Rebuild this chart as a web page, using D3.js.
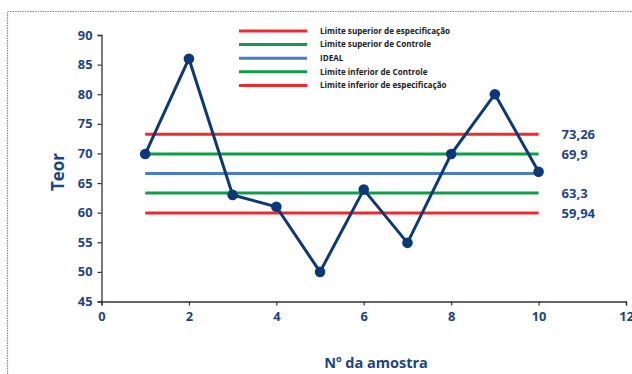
<!DOCTYPE html>
<html>
<head>
<meta charset="utf-8">
<script src="https://cdn.jsdelivr.net/npm/d3@7"></script>
<style>
  html, body { margin: 0; padding: 0; background: #fff; }
  svg { display: block; }
  text { font-family: "Open Sans", "DejaVu Sans", sans-serif; font-weight: 700; }
</style>
</head>
<body>
<svg id="chart" width="632" height="374"></svg>
<script>
// Sample numbers and measured content
const samples = [1, 2, 3, 4, 5, 6, 7, 8, 9, 10];
const teor = [69.9, 86, 63, 61, 50, 63.9, 54.9, 69.9, 80, 66.9];

// Control / specification limits (top to bottom)
const limitNames = [
  "Limite superior de especificação",
  "Limite superior de Controle",
  "IDEAL",
  "Limite inferior de Controle",
  "Limite inferior de especificação"
];
const limitValues = [73.26, 69.9, 66.6, 63.3, 59.94];
const limitLabels = ["73,26", "69,9", "", "63,3", "59,94"];
const limitColors = ["#ee2a30", "#109d4a", "#4a7cc4", "#109d4a", "#ee2a30"];

const xTicks = [0, 2, 4, 6, 8, 10, 12];
const yTicks = [45, 50, 55, 60, 65, 70, 75, 80, 85, 90];

const navy = "#0b3877";
const textBlue = "#1b4484";

const svg = d3.select("#chart");

// Dotted frame
svg.append("path")
  .attr("d", "M7.5,374 V11.5 H632")
  .attr("fill", "none")
  .attr("stroke", "#8a8a8a")
  .attr("stroke-width", 1.2)
  .attr("stroke-dasharray", "1.5,1");

const x = d3.scaleLinear().domain([0, 12]).range([101.5, 626]);
const y = d3.scaleLinear().domain([45, 90]).range([301.5, 35]);

// Axes
const xAxis = svg.append("g")
  .attr("transform", `translate(0,${y(45)})`)
  .call(d3.axisBottom(x).tickValues(xTicks).tickSize(4).tickPadding(6));
const yAxis = svg.append("g")
  .attr("transform", `translate(${x(0)},0)`)
  .call(d3.axisLeft(y).tickValues(yTicks).tickSize(4).tickPadding(5));

[xAxis, yAxis].forEach(g => {
  g.select(".domain").attr("stroke", "#333").attr("stroke-width", 1.3);
  g.selectAll(".tick line").attr("stroke", "#333").attr("stroke-width", 1.2);
  g.selectAll(".tick text")
    .attr("fill", textBlue)
    .attr("font-size", 12.8)
    .attr("font-family", "\"Open Sans\", sans-serif")
    .attr("font-weight", 700);
});

// Limit lines spanning the sample range
const xMin = d3.min(samples), xMax = d3.max(samples);
svg.append("g").selectAll("line")
  .data(limitValues)
  .join("line")
  .attr("x1", x(xMin)).attr("x2", x(xMax))
  .attr("y1", d => y(d)).attr("y2", d => y(d))
  .attr("stroke", (d, i) => limitColors[i])
  .attr("stroke-width", 3);

// Limit value labels
svg.append("g").selectAll("text")
  .data(limitValues)
  .join("text")
  .attr("x", x(xMax) + 23)
  .attr("y", d => y(d))
  .attr("dy", "0.35em")
  .attr("fill", textBlue)
  .attr("font-size", 13)
  .text((d, i) => limitLabels[i]);

// Measurement line and markers
const pts = samples.map((s, i) => [s, teor[i]]);
svg.append("path")
  .datum(pts)
  .attr("fill", "none")
  .attr("stroke", navy)
  .attr("stroke-width", 3)
  .attr("stroke-linejoin", "miter")
  .attr("d", d3.line().x(d => x(d[0])).y(d => y(d[1])));

svg.append("g").selectAll("circle")
  .data(pts)
  .join("circle")
  .attr("cx", d => x(d[0]))
  .attr("cy", d => y(d[1]))
  .attr("r", 5.3)
  .attr("fill", navy);

// Legend
const legend = svg.append("g");
const legY0 = 31, legStep = 13.6;
limitNames.forEach((name, i) => {
  const ly = legY0 + i * legStep;
  legend.append("line")
    .attr("x1", 239).attr("x2", 307)
    .attr("y1", ly).attr("y2", ly)
    .attr("stroke", limitColors[i])
    .attr("stroke-width", 3);
  legend.append("text")
    .attr("x", 320).attr("y", ly)
    .attr("dy", "0.35em")
    .attr("fill", "#222")
    .attr("font-size", 8.1)
    .text(name);
});

// Axis titles
svg.append("text")
  .attr("transform", `translate(64,172) rotate(-90)`)
  .attr("text-anchor", "middle")
  .attr("fill", textBlue)
  .attr("font-size", 17)
  .text("Teor");

svg.append("text")
  .attr("x", 376).attr("y", 368)
  .attr("text-anchor", "middle")
  .attr("fill", textBlue)
  .attr("font-size", 14.5)
  .text("Nº da amostra");
</script>
</body>
</html>
